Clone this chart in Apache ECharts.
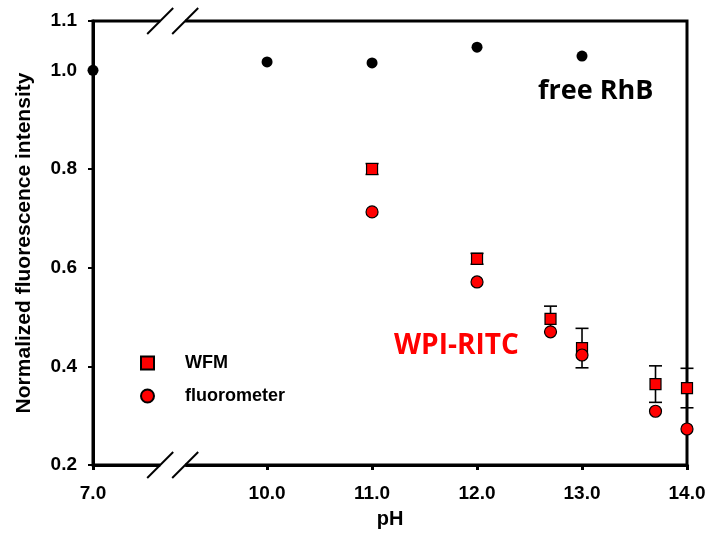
<!DOCTYPE html>
<html><head><meta charset="utf-8">
<script src="https://cdn.jsdelivr.net/npm/echarts@6/dist/echarts.min.js"></script>
<style>html,body{margin:0;padding:0;background:#fff}#c{width:710px;height:536px}</style>
</head><body><div id="c"></div>
<script>
const xTicks = [7, 10, 11, 12, 13, 14];
const yTicks = [0.2, 0.4, 0.6, 0.8, 1.0, 1.1];
const rhbPH = [7.0, 10.0, 11.0, 12.0, 13.0];
const rhbVal = [1.0, 1.017, 1.015, 1.047, 1.029];
const ritcPH = [11.0, 12.0, 12.7, 13.0, 13.7, 14.0];
const wfmVal = [0.800, 0.618, 0.496, 0.437, 0.364, 0.356];
const wfmErr = [0.011, 0.011, 0.026, 0.040, 0.037, 0.040];
const fluoVal = [0.713, 0.571, 0.470, 0.423, 0.309, 0.273];
const breakStart = 7.64, breakEnd = 9.22, breakGap = 0.238;

const font = 'Arial, "Liberation Sans", sans-serif';
const chart = echarts.init(document.getElementById('c'), null, {renderer: 'canvas'});

const option = {
  animation: false,
  backgroundColor: '#fff',
  grid: {left: 93, right: 23, top: 21, bottom: 71, show: true, borderColor: '#000', borderWidth: 3, backgroundColor: 'transparent'},
  xAxis: {
    type: 'value', min: 7, max: 14,
    breaks: [{start: breakStart, end: breakEnd, gap: breakGap}],
    breakArea: {show: false},
    name: 'pH', nameLocation: 'middle', nameGap: 44,
    nameTextStyle: {fontFamily: font, fontWeight: 'bold', fontSize: 20, color: '#000'},
    axisLine: {show: true, onZero: false, lineStyle: {color: '#000', width: 3}},
    axisTick: {show: true, customValues: xTicks, length: 5, inside: false, lineStyle: {color: '#000', width: 3}},
    axisLabel: {customValues: xTicks, formatter: v => v.toFixed(1), fontFamily: font, fontWeight: 'bold', fontSize: 19, color: '#000', margin: 19},
    splitLine: {show: false}
  },
  yAxis: {
    type: 'value', min: 0.2, max: 1.1,
    name: 'Normalized fluorescence intensity', nameLocation: 'middle', nameGap: 58,
    nameTextStyle: {fontFamily: font, fontWeight: 'bold', fontSize: 21, color: '#000'},
    axisLine: {show: true, onZero: false, lineStyle: {color: '#000', width: 3}},
    axisTick: {show: true, customValues: yTicks, length: 5, lineStyle: {color: '#000', width: 2}},
    axisLabel: {customValues: yTicks, formatter: v => v.toFixed(1), fontFamily: font, fontWeight: 'bold', fontSize: 19, color: '#000', margin: 16},
    splitLine: {show: false}
  },
  legend: {
    data: ['WFM', 'fluorometer'], orient: 'vertical', left: 135, top: 349,
    itemWidth: 13, itemHeight: 13, itemGap: 15,
    textStyle: {fontFamily: font, fontWeight: 'bold', fontSize: 18, color: '#000', padding: [0, 0, 0, 26]}
  },
  series: [
    {
      name: 'free RhB', type: 'scatter', symbol: 'circle', symbolSize: 11,
      itemStyle: {color: '#000', opacity: 1}, z: 5,
      data: rhbPH.map((x, i) => [x, rhbVal[i]]), clip: false
    },
    {
      name: 'WFM err', type: 'custom', z: 3, clip: false,
      data: ritcPH.map((x, i) => [x, wfmVal[i] - wfmErr[i], wfmVal[i] + wfmErr[i]]),
      encode: {x: 0, y: [1, 2]},
      renderItem: (params, api) => {
        const x = api.value(0);
        const a = api.coord([x, api.value(2)]);
        const b = api.coord([x, api.value(1)]);
        const w = 6.5;
        const st = {stroke: '#000', lineWidth: 1.6};
        return {type: 'group', children: [
          {type: 'line', shape: {x1: a[0], y1: a[1], x2: b[0], y2: b[1]}, style: st},
          {type: 'line', shape: {x1: a[0] - w, y1: a[1], x2: a[0] + w, y2: a[1]}, style: st},
          {type: 'line', shape: {x1: b[0] - w, y1: b[1], x2: b[0] + w, y2: b[1]}, style: st}
        ]};
      }
    },
    {
      name: 'WFM', type: 'scatter', symbol: 'rect', symbolSize: 11, z: 6, clip: false,
      itemStyle: {color: '#ff0000', borderColor: '#000', borderWidth: 1.2, opacity: 1},
      data: ritcPH.map((x, i) => [x, wfmVal[i]])
    },
    {
      name: 'fluorometer', type: 'scatter', symbol: 'circle', symbolSize: 12, z: 7, clip: false,
      itemStyle: {color: '#ff0000', borderColor: '#000', borderWidth: 1.2, opacity: 1},
      data: ritcPH.map((x, i) => [x, fluoVal[i]])
    }
  ]
};
chart.setOption(option);

const p1 = chart.convertToPixel({xAxisIndex: 0}, breakStart);
const p2 = chart.convertToPixel({xAxisIndex: 0}, breakEnd);
const yT = chart.convertToPixel({yAxisIndex: 0}, 1.1);
const yB = chart.convertToPixel({yAxisIndex: 0}, 0.2);
const g = [];
[yT, yB].forEach(yy => {
  g.push({type: 'rect', shape: {x: p1, y: yy - 4, width: p2 - p1, height: 8}, style: {fill: '#fff'}, z: 100});
  [p1, p2].forEach(px => {
    g.push({type: 'line', shape: {x1: px - 13, y1: yy + 13, x2: px + 13, y2: yy - 13}, style: {stroke: '#000', lineWidth: 2}, z: 101});
  });
});
g.push({type: 'text', left: 538, top: 78, style: {text: 'free RhB', fill: '#000', font: 'bold 27px "Open Sans", sans-serif'}, z: 102});
g.push({type: 'text', left: 394, top: 332, style: {text: 'WPI-RITC', fill: '#ff0000', font: 'bold 28px "Open Sans", sans-serif'}, z: 102});
chart.setOption({graphic: g});
</script>
</body></html>
